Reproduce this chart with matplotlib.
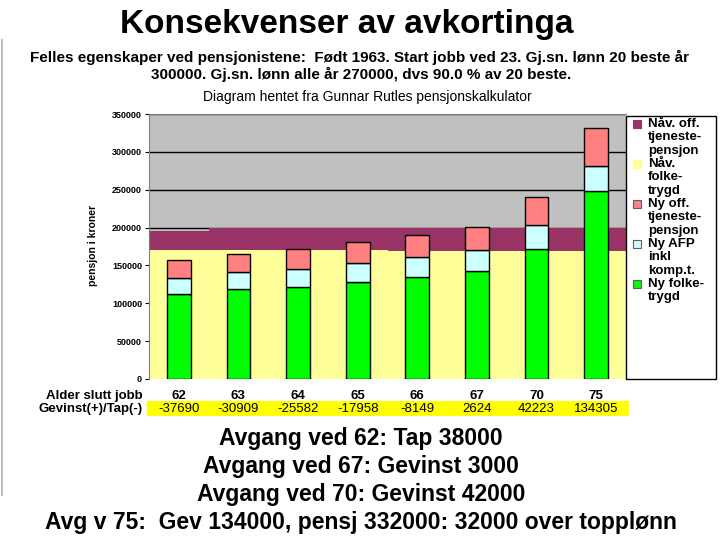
import numpy as np
import matplotlib
matplotlib.use("Agg")
import matplotlib.pyplot as plt
from matplotlib.patches import Rectangle

plt.rcParams['font.family'] = ['Liberation Sans', 'DejaVu Sans']

# alder ved slutt i jobb
alder = ['62', '63', '64', '65', '66', '67', '70', '75']
gevinst = ['-37690', '-30909', '-25582', '-17958', '-8149', '2624', '42223', '134305']

# nye ordninger (stablede søyler)
ny_folketrygd = [112000, 118500, 121000, 127500, 135000, 142500, 172000, 248500]
ny_afp = [22000, 22500, 24800, 25400, 26200, 28000, 31500, 32500]
ny_off_tjp = [23000, 24200, 25500, 27700, 28600, 30000, 36500, 51000]

# nåværende ordninger (bakgrunnsflater)
nav_folketrygd = [170000, 170000, 170000, 170000, 169500, 169500, 169500, 169500]
nav_off_tjp = [26000, 29500, 29500, 29500, 30000, 30000, 30000, 30000]

legend_labels = [['Nåv. off.', 'tjeneste-', 'pensjon'], ['Nåv.', 'folke-', 'trygd'],
                 ['Ny off.', 'tjeneste-', 'pensjon'], ['Ny AFP', 'inkl', 'komp.t.'],
                 ['Ny folke-', 'trygd']]
farger = ['#993366', '#FFFF99', '#FF8080', '#CCFFFF', '#00FF00']

W, H = 720, 540
fig = plt.figure(figsize=(7.2, 5.4), dpi=100)


def fx(px):
    return px / W


def fy(py):
    return 1 - py / H


ax = fig.add_axes([fx(149), fy(379), fx(626) - fx(149), fy(114) - fy(379)])
ax.set_facecolor('#C0C0C0')

x = np.arange(len(alder))
kanter = np.arange(len(alder) + 1) - 0.5
yf = np.array(nav_folketrygd)
yt = yf + np.array(nav_off_tjp)
ax.fill_between(kanter, 0, np.append(yf, yf[-1]), step='post', color=farger[1], lw=0)
ax.fill_between(kanter, np.append(yf, yf[-1]), np.append(yt, yt[-1]), step='post',
                color=farger[0], lw=0)

b1 = np.array(ny_folketrygd)
b2 = b1 + np.array(ny_afp)
bw = 0.4
ax.bar(x, ny_folketrygd, bw, color=farger[4], edgecolor='black', lw=1, zorder=3)
ax.bar(x, ny_afp, bw, bottom=b1, color=farger[3], edgecolor='black', lw=1, zorder=3)
ax.bar(x, ny_off_tjp, bw, bottom=b2, color=farger[2], edgecolor='black', lw=1, zorder=3)

ax.set_xlim(-0.5, len(alder) - 0.5)
ax.set_ylim(0, 350000)
ax.set_yticks(np.arange(0, 350001, 50000))
ax.set_yticklabels([str(v) for v in range(0, 350001, 50000)], fontsize=6.5,
                   fontweight='bold')
ax.set_xticks([])
ax.set_axisbelow(True)
ax.yaxis.grid(True, color='black', lw=1)
ax.tick_params(axis='y', length=3, width=0.8, pad=2)
for s in ['right', 'bottom']:
    ax.spines[s].set_visible(False)
ax.spines['top'].set_color('#808080')
ax.spines['left'].set_color('#808080')

fig.text(fx(93), fy(245), 'pensjon i kroner', rotation=90, fontsize=7.5,
         fontweight='bold', ha='center', va='center')

# forklaring til høyre, tegnet for hand
fig.patches.append(Rectangle((fx(626), fy(379)), fx(716) - fx(626), fy(116) - fy(379),
                             transform=fig.transFigure, facecolor='white',
                             edgecolor='black', lw=1))
for i, (lab, c) in enumerate(zip(legend_labels, farger)):
    y0 = 124 + 40 * i
    kant = c if i < 2 else '#606060'
    fig.patches.append(Rectangle((fx(633), fy(y0 + 4)), fx(8), 8 / H,
                                 transform=fig.transFigure, facecolor=c,
                                 edgecolor=kant, lw=0.8))
    for j, t in enumerate(lab):
        fig.text(fx(648), fy(y0 + 13.3 * j), t, fontsize=9.5, fontweight='bold',
                 ha='left', va='center')

# tekster
fig.text(fx(347), fy(25), 'Konsekvenser av avkortinga', fontsize=24,
         fontweight='bold', ha='center', va='center')
fig.text(fx(360), fy(57), 'Felles egenskaper ved pensjonistene:  Født 1963. Start jobb ved 23. '
         'Gj.sn. lønn 20 beste år', fontsize=11, fontweight='bold', ha='center', va='center')
fig.text(fx(361), fy(74), '300000. Gj.sn. lønn alle år 270000, dvs 90.0 % av 20 beste.',
         fontsize=11, fontweight='bold', ha='center', va='center')
fig.text(fx(367), fy(97), 'Diagram hentet fra Gunnar Rutles pensjonskalkulator',
         fontsize=10, ha='center', va='center')

# tabell under diagrammet
fig.patches.append(Rectangle((fx(147), fy(416)), fx(629) - fx(147), fy(401) - fy(416),
                             transform=fig.transFigure, facecolor='#FFFF00',
                             edgecolor='none'))
fig.text(fx(143), fy(396), 'Alder slutt jobb', fontsize=9.5, fontweight='bold',
         ha='right', va='center')
fig.text(fx(143), fy(409), 'Gevinst(+)/Tap(-)', fontsize=9.5, fontweight='bold',
         ha='right', va='center')
for i in range(len(alder)):
    xp = ax.transData.transform((x[i], 0))[0] / W
    fig.text(xp, fy(396), alder[i], fontsize=9.5, fontweight='bold', ha='center', va='center')
    fig.text(xp, fy(409), gevinst[i], fontsize=9.5, ha='center', va='center')

linjer = ['Avgang ved 62: Tap 38000', 'Avgang ved 67: Gevinst 3000',
          'Avgang ved 70: Gevinst 42000',
          'Avg v 75:  Gev 134000, pensj 332000: 32000 over topplønn']
for i, l in enumerate(linjer):
    fig.text(fx(361), fy(438 + 28 * i), l, fontsize=16.5, fontweight='bold',
             ha='center', va='center')

fig.add_artist(plt.Line2D([fx(2), fx(2)], [fy(40), fy(495)], color='#C0C0C0', lw=1.5))

fig.savefig('out.png', dpi=100)
